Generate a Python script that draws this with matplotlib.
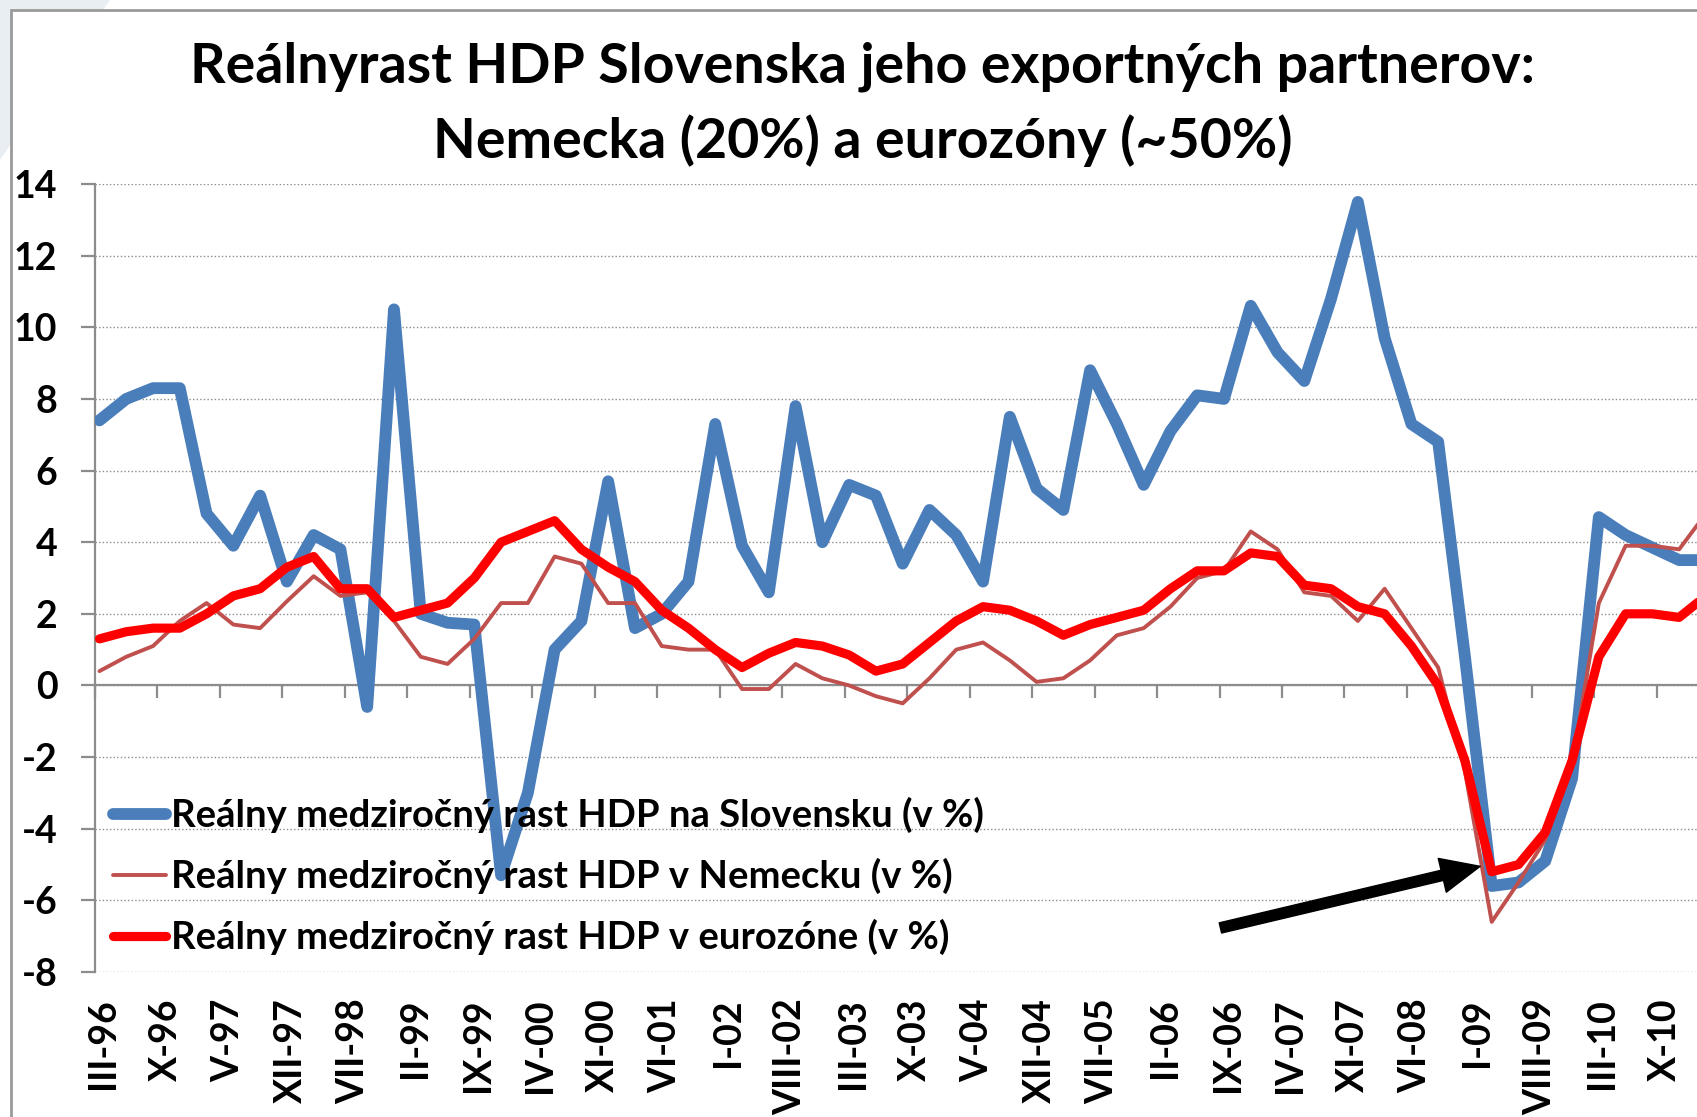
import matplotlib.pyplot as plt
from matplotlib.patches import Polygon, Rectangle

plt.rcParams['font.family'] = ['Lato', 'DejaVu Sans']
plt.rcParams['axes.unicode_minus'] = False

# quarterly data, first quarter = III-96 (Q1 1996), last point lies just beyond the visible edge
slovakia = [7.4, 8.0, 8.3, 8.3, 4.8, 3.9, 5.3, 2.9, 4.2, 3.8,
            -0.6, 10.5, 2.0, 1.75, 1.7, -5.3, -3.0, 1.0, 1.8, 5.7,
            1.6, 2.0, 2.9, 7.3, 3.9, 2.6, 7.8, 4.0, 5.6, 5.3,
            3.4, 4.9, 4.2, 2.9, 7.5, 5.5, 4.9, 8.8, 7.3, 5.6,
            7.1, 8.1, 8.0, 10.6, 9.3, 8.5, 10.8, 13.5, 9.7, 7.3,
            6.8, 0.8, -5.6, -5.5, -4.9, -2.6, 4.7, 4.2, 3.85, 3.5,
            3.5]
germany = [0.4, 0.8, 1.1, 1.8, 2.3, 1.7, 1.6, 2.35, 3.05, 2.5,
           2.6, 1.8, 0.8, 0.6, 1.3, 2.3, 2.3, 3.6, 3.4, 2.3,
           2.3, 1.1, 1.0, 1.0, -0.1, -0.1, 0.6, 0.2, 0.0, -0.3,
           -0.5, 0.2, 1.0, 1.2, 0.7, 0.1, 0.2, 0.7, 1.4, 1.6,
           2.2, 3.0, 3.2, 4.3, 3.8, 2.6, 2.5, 1.8, 2.7, 1.6,
           0.5, -2.4, -6.6, -5.5, -4.3, -2.2, 2.3, 3.9, 3.9, 3.8,
           4.8]
eurozone = [1.3, 1.5, 1.6, 1.6, 2.0, 2.5, 2.7, 3.3, 3.6, 2.7,
            2.7, 1.9, 2.1, 2.3, 3.0, 4.0, 4.3, 4.6, 3.8, 3.3,
            2.9, 2.1, 1.6, 1.0, 0.5, 0.9, 1.2, 1.1, 0.85, 0.4,
            0.6, 1.2, 1.8, 2.2, 2.1, 1.8, 1.4, 1.7, 1.9, 2.1,
            2.7, 3.2, 3.2, 3.7, 3.6, 2.8, 2.7, 2.2, 2.0, 1.1,
            0.0, -2.1, -5.2, -5.0, -4.1, -2.1, 0.8, 2.0, 2.0, 1.9,
            2.5]

tick_labels = ['III-96', 'X-96', 'V-97', 'XII-97', 'VII-98', 'II-99', 'IX-99',
               'IV-00', 'XI-00', 'VI-01', 'I-02', 'VIII-02', 'III-03', 'X-03',
               'V-04', 'XII-04', 'VII-05', 'II-06', 'IX-06', 'IV-07', 'XI-07',
               'VI-08', 'I-09', 'VIII-09', 'III-10', 'X-10']

series_names = ['Reálny medziročný rast HDP na Slovensku (v %)',
                'Reálny medziročný rast HDP v Nemecku (v %)',
                'Reálny medziročný rast HDP v eurozóne (v %)']

title = 'Reálnyrast HDP Slovenska jeho exportných partnerov:\nNemecka (20%) a eurozóny (~50%)'

# months since III-96, point in the middle of its month
months = [3 * i + 0.5 for i in range(len(slovakia))]
tick_pos = [7 * i for i in range(len(tick_labels))]

W, H = 1697, 1117
fig = plt.figure(figsize=(W / 100, H / 100), dpi=100)
fig.patch.set_facecolor('white')

# slide background bits and chart frame
fig.patches.append(Polygon([(0, 1), (110 / W, 1), (0, 1 - 160 / H)], closed=True,
                           transform=fig.transFigure, facecolor='#e9eef3', edgecolor='none', zorder=-3))
fig.patches.append(Rectangle((11 / W, -0.01), 1.0, 1 - 10 / H + 0.01, transform=fig.transFigure,
                             facecolor='white', edgecolor='#9a9a9a', linewidth=2, zorder=-2))

ax = fig.add_axes([95 / W, 1 - 972 / H, 1 - 95 / W, (972 - 184) / H])
ax.set_facecolor('none')

lw_blue, lw_brown, lw_red = 8.5, 2.8, 6.6
ax.plot(months, slovakia, color='#4a7ebb', lw=lw_blue, solid_joinstyle='round',
        solid_capstyle='round', label=series_names[0], zorder=3)
ax.plot(months, germany, color='#c0504d', lw=lw_brown, solid_joinstyle='round',
        solid_capstyle='round', label=series_names[1], zorder=4)
ax.plot(months, eurozone, color='#ff0000', lw=lw_red, solid_joinstyle='round',
        solid_capstyle='round', label=series_names[2], zorder=5)

ax.set_xlim(0, 179.5)
ax.set_ylim(-8, 14)
ax.set_yticks(range(-8, 15, 2))
ax.grid(axis='y', color='#8c8c8c', linestyle=(0, (1, 1.6)), linewidth=1.0)
ax.set_axisbelow(True)

for s in ['top', 'right', 'bottom']:
    ax.spines[s].set_visible(False)
ax.spines['left'].set_color('#8c8c8c')
ax.spines['left'].set_linewidth(1.6)

ax.tick_params(axis='y', direction='out', length=10, width=1.6, color='#8c8c8c',
               labelsize=27, pad=17)
for t in ax.get_yticklabels():
    t.set_fontweight('bold')

# category labels sit low, below the plot area, centred on their month
ax.set_xticks([p + 0.9 for p in tick_pos])
ax.set_xticklabels(tick_labels, rotation=90, fontsize=27, fontweight='bold')
ax.tick_params(axis='x', length=0, pad=19)

# horizontal axis line at zero with its tick marks
sec = ax.secondary_xaxis(8 / 22)
sec.set_xticks(tick_pos)
sec.set_xticklabels([])
sec.tick_params(axis='x', direction='out', length=9, width=1.6, color='#8c8c8c')
sec.spines['bottom'].set_color('#8c8c8c')
sec.spines['bottom'].set_linewidth(1.6)

leg = ax.legend(loc='upper left', bbox_to_anchor=(0.011, 0.222), frameon=False,
                fontsize=27.5, handlelength=1.4, handletextpad=0.12, labelspacing=0.65,
                borderpad=0, borderaxespad=0)
for t in leg.get_texts():
    t.set_fontweight('bold')

arrow_start = (126.1, -6.77)
arrow_end = (155.2, -5.05)
ax.annotate('', xy=arrow_end, xytext=arrow_start,
            arrowprops=dict(arrowstyle='simple,head_length=2.8,head_width=2.5,tail_width=0.75',
                            mutation_scale=10, color='black', shrinkA=0, shrinkB=0), zorder=6)

lines = title.split('\n')
fig.text(863 / W, 1 - 67 / H, lines[0], ha='center', va='center', fontsize=40, fontweight='bold')
fig.text(863 / W, 1 - 141 / H, lines[1], ha='center', va='center', fontsize=40, fontweight='bold')

fig.savefig('out.png', dpi=100)
